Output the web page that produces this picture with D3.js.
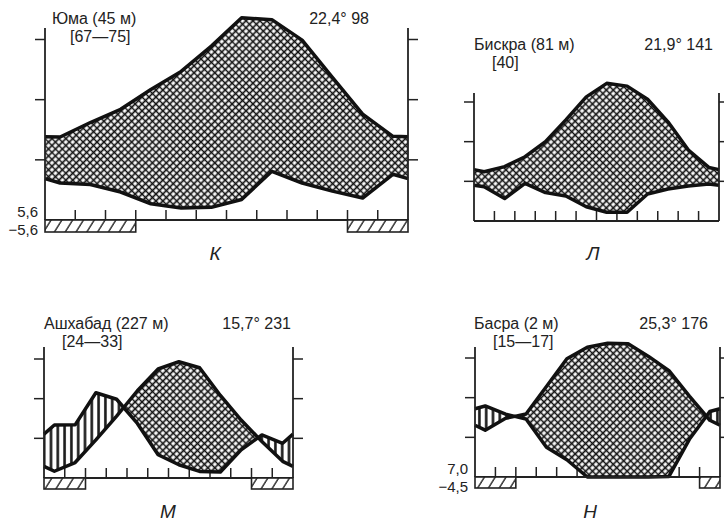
<!DOCTYPE html>
<html lang="ru">
<head>
<meta charset="UTF-8">
<title>Климадиаграммы</title>
<script src="https://d3js.org/d3.v7.min.js"></script>
<style>
  body { margin: 0; background: #fff; }
  svg text { font-family: "Liberation Sans", Arial, sans-serif; fill: #222; }
</style>
</head>
<body>
<div id="chart"></div>
<script>
// подписи станций
const stationNames = ["Юма (45 м)", "Бискра (81 м)", "Ашхабад (227 м)", "Басра (2 м)"];
const yearRanges = ["[67—75]", "[40]", "[24—33]", "[15—17]"];
const meanTemps = ["22,4°", "21,9°", "15,7°", "25,3°"];
const annualPrec = ["98", "141", "231", "176"];
const panelLetters = ["К", "Л", "М", "Н"];
const minLabels = [["5,6", "−5,6"], null, null, ["7,0", "−4,5"]];

// среднемесячные температуры, °C (янв..дек)
const tempYuma = [13.8, 16.2, 18.4, 21.7, 24.7, 28.9, 33.6, 33.3, 29.9, 23.7, 17.6, 13.9];
const tempBiskra = [12.4, 13.7, 16.2, 20.0, 25.5, 31.3, 34.7, 34.0, 30.7, 25.0, 17.9, 13.5];
const tempAshkhabad = [1.7, 3.9, 9.6, 15.6, 22.0, 27.5, 29.3, 27.8, 20.8, 14.6, 9.2, 4.2];
const tempBasra = [11.8, 14.8, 15.9, 22.8, 29.8, 32.7, 33.7, 33.6, 30.4, 26.8, 20.4, 14.3];

// осадки, мм
const precYuma = [12.3, 11.8, 9.3, 5.4, 4.0, 4.2, 6.8, 16.2, 12.3, 9.6, 7.3, 15.2];
const precBiskra = [17.3, 11.3, 19.0, 14.3, 12.6, 7.2, 4.4, 4.4, 13.6, 16.1, 17.6, 18.7];
const precAshkhabad = [26.7, 26.8, 43.0, 39.7, 27.5, 11.7, 6.7, 3.3, 3.0, 14.2, 21.7, 17.5];
const precBasra = [35.8, 31.7, 29.2, 15.0, 8.7, 0, 0, 0, 0, 0.3, 19.0, 33.0];

// месяцы с абсолютным минимумом ниже 0
const frostYuma = [1, 1, 1, 0, 0, 0, 0, 0, 0, 0, 1, 1];
const frostBiskra = [0, 0, 0, 0, 0, 0, 0, 0, 0, 0, 0, 0];
const frostAshkhabad = [1, 1, 0, 0, 0, 0, 0, 0, 0, 0, 1, 1];
const frostBasra = [1, 1, 0, 0, 0, 0, 0, 0, 0, 0, 0, 1];

const temps = [tempYuma, tempBiskra, tempAshkhabad, tempBasra];
const precs = [precYuma, precBiskra, precAshkhabad, precBasra];
const frosts = [frostYuma, frostBiskra, frostAshkhabad, frostBasra];

// расположение панелей
const layout = [
  { left: 45, right: 408, y0: 220, y30: 39.5, top: 28, barH: 12, titleX: 52, titleY: 24, rangeX: 70, rangeY: 42, sumX: 369, letterX: 215, letterY: 260 },
  { left: 474, right: 719, y0: 221, y30: 102, top: 93, barH: 11, titleX: 474, titleY: 50, rangeX: 492, rangeY: 68, sumX: 713, letterX: 593, letterY: 260 },
  { left: 44, right: 293, y0: 478, y30: 359, top: 347, barH: 11, titleX: 44, titleY: 329, rangeX: 62, rangeY: 347, sumX: 291, letterX: 168, letterY: 518 },
  { left: 475, right: 720, y0: 477, y30: 358, top: 347, barH: 11, titleX: 474, titleY: 329, rangeX: 493, rangeY: 347, sumX: 708, letterX: 590, letterY: 518 }
];

const svg = d3.select("#chart").append("svg")
  .attr("width", 724)
  .attr("height", 524);

const defs = svg.append("defs");

// перекрёстная штриховка (засушливый период)
const cw = 4.9;
const cross = defs.append("pattern")
  .attr("id", "cross")
  .attr("patternUnits", "userSpaceOnUse")
  .attr("width", cw).attr("height", cw)
  .attr("patternTransform", "rotate(45)");
cross.append("rect").attr("width", cw).attr("height", cw).attr("fill", "#fff");
cross.append("path")
  .attr("d", `M0,${cw / 2}H${cw}M${cw / 2},0V${cw}`)
  .attr("stroke", "#111").attr("stroke-width", 1.7);

// вертикальная штриховка (влажный период)
const vert = defs.append("pattern")
  .attr("id", "vert")
  .attr("patternUnits", "userSpaceOnUse")
  .attr("width", 6.8).attr("height", 10);
vert.append("rect").attr("width", 6.8).attr("height", 10).attr("fill", "#fff");
vert.append("line")
  .attr("x1", 3.4).attr("x2", 3.4).attr("y1", 0).attr("y2", 10)
  .attr("stroke", "#1a1a1a").attr("stroke-width", 2.6);

// косая штриховка заморозков
const frostPat = defs.append("pattern")
  .attr("id", "frost")
  .attr("patternUnits", "userSpaceOnUse")
  .attr("width", 10.8).attr("height", 20)
  .attr("patternTransform", "skewX(-32)");
frostPat.append("rect").attr("width", 10.8).attr("height", 20).attr("fill", "#fff");
frostPat.append("line")
  .attr("x1", 5).attr("x2", 5).attr("y1", 0).attr("y2", 20)
  .attr("stroke", "#222").attr("stroke-width", 1.6);

// точки кривых: края = среднее дек/янв, плюс точки пересечения кривых
function buildPoints(temp, prec) {
  const edge = { t: (temp[0] + temp[11]) / 2, p: (prec[0] + prec[11]) / 2 };
  const raw = [{ m: 0, t: edge.t, p: edge.p }]
    .concat(temp.map((t, i) => ({ m: i + 0.5, t: t, p: prec[i] })))
    .concat([{ m: 12, t: edge.t, p: edge.p }]);
  const pts = [raw[0]];
  for (let i = 1; i < raw.length; i++) {
    const a = raw[i - 1], b = raw[i];
    const da = a.t - a.p / 2, db = b.t - b.p / 2;
    if (da * db < 0) {
      const k = da / (da - db);
      pts.push({ m: a.m + k * (b.m - a.m), t: a.t + k * (b.t - a.t), p: a.p + k * (b.p - a.p) });
    }
    pts.push(b);
  }
  return pts;
}

function drawPanel(i) {
  const L = layout[i];
  const g = svg.append("g");

  const x = d3.scaleLinear().domain([0, 12]).range([L.left, L.right]);
  const yT = d3.scaleLinear().domain([0, 30]).range([L.y0, L.y30]);
  const yP = d3.scaleLinear().domain([0, 60]).range([L.y0, L.y30]);

  const pts = buildPoints(temps[i], precs[i]);

  // деления месяцев
  g.selectAll("line.mtick")
    .data(d3.range(1, 12))
    .join("line")
    .attr("x1", d => x(d)).attr("x2", d => x(d))
    .attr("y1", L.y0).attr("y2", L.y0 - 10)
    .attr("stroke", "#222").attr("stroke-width", 1.5);

  // засушливый период
  const arid = d3.area()
    .x(d => x(d.m))
    .y0(d => yP(d.p))
    .y1(d => yT(Math.max(d.t, d.p / 2)));
  g.append("path").attr("d", arid(pts)).attr("fill", "url(#cross)");

  // влажный период
  const humid = d3.area()
    .x(d => x(d.m))
    .y0(d => yT(d.t))
    .y1(d => yT(Math.max(d.t, d.p / 2)));
  g.append("path").attr("d", humid(pts)).attr("fill", "url(#vert)");

  // кривые температуры и осадков
  g.append("path")
    .attr("d", d3.line().x(d => x(d.m)).y(d => yT(d.t))(pts))
    .attr("fill", "none").attr("stroke", "#111").attr("stroke-width", 3.5)
    .attr("stroke-linejoin", "round");
  g.append("path")
    .attr("d", d3.line().x(d => x(d.m)).y(d => yP(d.p))(pts))
    .attr("fill", "none").attr("stroke", "#111").attr("stroke-width", 3.5)
    .attr("stroke-linejoin", "round");

  // оси
  const axisColor = "#222";
  g.append("line")
    .attr("x1", L.left).attr("x2", L.right).attr("y1", L.y0).attr("y2", L.y0)
    .attr("stroke", axisColor).attr("stroke-width", 1.8);
  [L.left, L.right].forEach((ax, side) => {
    g.append("line")
      .attr("x1", ax).attr("x2", ax).attr("y1", L.top).attr("y2", L.y0)
      .attr("stroke", axisColor).attr("stroke-width", 1.8);
    g.selectAll(null)
      .data([10, 20, 30])
      .join("line")
      .attr("x1", side ? ax : ax - 10).attr("x2", side ? ax + 10 : ax)
      .attr("y1", d => yT(d)).attr("y2", d => yT(d))
      .attr("stroke", axisColor).attr("stroke-width", 1.5);
  });

  // полосы заморозков
  const fr = frosts[i];
  const runs = [];
  fr.forEach((f, m) => {
    if (!f) return;
    if (runs.length && runs[runs.length - 1][1] === m) runs[runs.length - 1][1] = m + 1;
    else runs.push([m, m + 1]);
  });
  g.selectAll("rect.frost")
    .data(runs)
    .join("rect")
    .attr("x", d => x(d[0])).attr("y", L.y0)
    .attr("width", d => x(d[1]) - x(d[0])).attr("height", L.barH)
    .attr("fill", "url(#frost)")
    .attr("stroke", axisColor).attr("stroke-width", 1.6);

  // подписи
  g.append("text").attr("x", L.titleX).attr("y", L.titleY)
    .attr("font-size", "16px").text(stationNames[i]);
  g.append("text").attr("x", L.rangeX).attr("y", L.rangeY)
    .attr("font-size", "16px").text(yearRanges[i]);
  g.append("text").attr("x", L.sumX).attr("y", L.titleY)
    .attr("font-size", "16px").attr("text-anchor", "end")
    .text(meanTemps[i] + " " + annualPrec[i]);

  if (minLabels[i]) {
    g.append("text").attr("x", L.left - 7).attr("y", L.y0 - 3.5)
      .attr("font-size", "15px").attr("text-anchor", "end").text(minLabels[i][0]);
    g.append("text").attr("x", L.left - 7).attr("y", L.y0 + 15)
      .attr("font-size", "15px").attr("text-anchor", "end").text(minLabels[i][1]);
  }

  g.append("text").attr("x", L.letterX).attr("y", L.letterY)
    .attr("font-size", "19px").attr("font-style", "italic")
    .attr("text-anchor", "middle").text(panelLetters[i]);
}

d3.range(4).forEach(drawPanel);
</script>
</body>
</html>
